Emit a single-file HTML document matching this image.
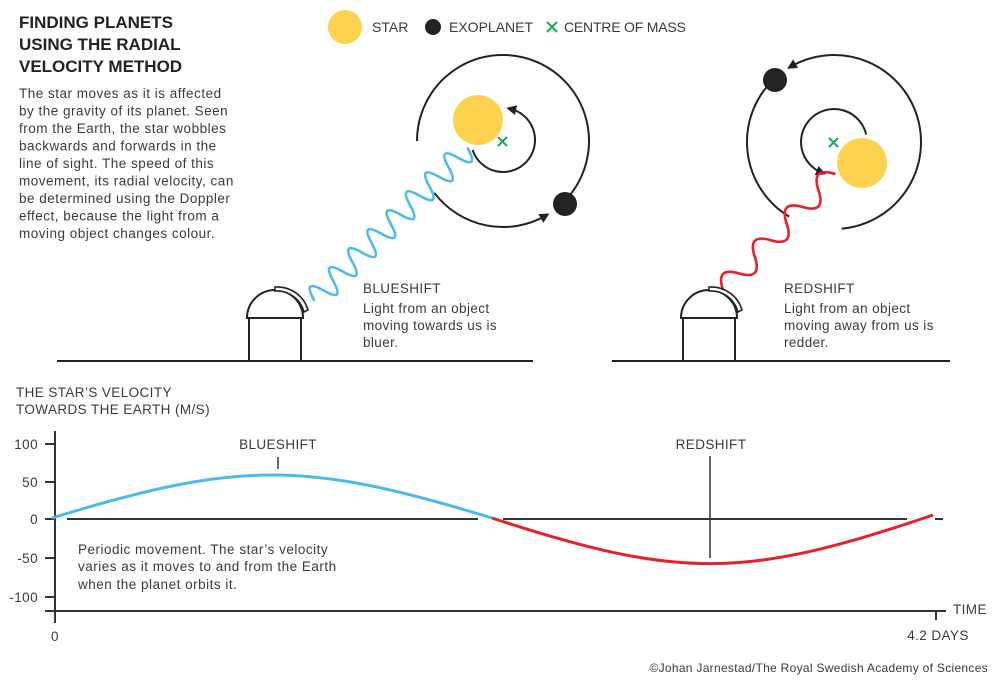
<!DOCTYPE html>
<html><head><meta charset="utf-8"><style>
html,body{margin:0;padding:0;background:#fff;}
svg{display:block;}
text{font-family:"Liberation Sans",sans-serif;fill:#3a3a3a;}
.t{font-weight:bold;font-size:17px;fill:#222;}
.b{font-size:13.5px;letter-spacing:0.5px;}
.s{font-size:13.5px;letter-spacing:0.4px;}
</style></head><body>
<svg width="1000" height="683" viewBox="0 0 1000 683" xmlns="http://www.w3.org/2000/svg">
<defs>
<marker id="ar" markerWidth="10" markerHeight="10" refX="6" refY="5" orient="auto" markerUnits="userSpaceOnUse">
<path d="M0,0 L10,5 L0,10 Z" fill="#222"/>
</marker>
</defs>
<!-- Title -->
<text class="t" x="19" y="28">FINDING PLANETS</text>
<text class="t" x="19" y="50">USING THE RADIAL</text>
<text class="t" x="19" y="72">VELOCITY METHOD</text>
<text class="b" x="19" y="98">The star moves as it is affected</text>
<text class="b" x="19" y="115.5">by the gravity of its planet. Seen</text>
<text class="b" x="19" y="133">from the Earth, the star wobbles</text>
<text class="b" x="19" y="150.5">backwards and forwards in the</text>
<text class="b" x="19" y="168">line of sight. The speed of this</text>
<text class="b" x="19" y="185.5">movement, its radial velocity, can</text>
<text class="b" x="19" y="203">be determined using the Doppler</text>
<text class="b" x="19" y="220.5">effect, because the light from a</text>
<text class="b" x="19" y="238">moving object changes colour.</text>
<!-- Legend -->
<circle cx="345" cy="27" r="17" fill="#fdd24e"/>
<text x="372" y="32" style="font-size:14px">STAR</text>
<circle cx="433" cy="27" r="8" fill="#222"/>
<text x="449" y="32" style="font-size:14px">EXOPLANET</text>
<path d="M547,22 L557,32 M557,22 L547,32" stroke="#1aaa55" stroke-width="2"/>
<text x="564" y="32" style="font-size:14px;letter-spacing:-0.2px">CENTRE OF MASS</text>

<!-- Left orbit -->
<g fill="none" stroke="#222" stroke-width="2">
<path d="M417,141 A86,86 0 1 1 563.8,201.8"/>
<path d="M434.3,192.8 A86,86 0 0 0 546,215.5" marker-end="url(#ar)"/>
<path d="M472.6,149.9 A32,32 0 1 0 510.2,108.8" marker-end="url(#ar)"/>
</g>
<circle cx="478" cy="120" r="25" fill="#fdd24e"/>
<circle cx="565" cy="204" r="12" fill="#222"/>
<path d="M498,137 L507,146 M507,137 L498,146" stroke="#1aaa55" stroke-width="2"/>
<path transform="translate(314,300) rotate(-44.6)" fill="none" stroke="#4dbbea" stroke-width="2.6" stroke-linecap="round"
 d="M0,0 q6.75,-24 13.5,0 t13.5,0 t13.5,0 t13.5,0 t13.5,0 t13.5,0 t13.5,0 t13.5,0 t13.5,0 t13.5,0 t13.5,0 t13.5,0 t13.5,0 t13.5,0 t13.5,0 t13.5,0"/>
<!-- Left telescope -->
<g fill="none" stroke="#222" stroke-width="2">
<path d="M247,318 A28,28 0 0 1 303,318 Z"/>
<path d="M249,318 V361 M301,318 V361"/>
<path d="M57,361 H533"/>
</g>
<path d="M275,287 A32,32 0 0 1 308,310 L304,312 A28,28 0 0 0 275,291 Z" fill="#fff" stroke="#222" stroke-width="1.6"/>
<text class="s" x="363" y="293">BLUESHIFT</text>
<text class="s" x="363" y="313">Light from an object</text>
<text class="s" x="363" y="330">moving towards us is</text>
<text class="s" x="363" y="347">bluer.</text>

<!-- Right orbit -->
<g fill="none" stroke="#222" stroke-width="2">
<path d="M773.6,79.4 A87,87 0 0 0 789.2,216.6"/>
<path d="M841.6,228.7 A87,87 0 1 0 790.5,66.7" marker-end="url(#ar)"/>
<path d="M866.2,134.6 A33,33 0 1 0 822.2,172.8" marker-end="url(#ar)"/>
</g>
<circle cx="775" cy="80" r="12" fill="#222"/>
<circle cx="862" cy="163" r="25" fill="#fdd24e"/>
<path d="M829,138 L838,147 M838,138 L829,147" stroke="#1aaa55" stroke-width="2"/>
<path transform="translate(723,290) rotate(-46.2)" fill="none" stroke="#e8202a" stroke-width="2.6" stroke-linecap="round"
 d="M0,0 q11.5,-22 23,0 t23,0 t23,0 t23,0 t23,0 t23,0 t23,0"/>
<g fill="none" stroke="#222" stroke-width="2">
<path d="M681,318 A28,28 0 0 1 737,318 Z"/>
<path d="M683,318 V361 M735,318 V361"/>
<path d="M612,361 H950"/>
</g>
<path d="M709,287 A32,32 0 0 1 742,310 L738,312 A28,28 0 0 0 709,291 Z" fill="#fff" stroke="#222" stroke-width="1.6"/>
<text class="s" x="784" y="293">REDSHIFT</text>
<text class="s" x="784" y="313">Light from an object</text>
<text class="s" x="784" y="330">moving away from us is</text>
<text class="s" x="784" y="347">redder.</text>

<!-- Graph -->
<text class="s" x="16" y="397">THE STAR’S VELOCITY</text>
<text class="s" x="16" y="414">TOWARDS THE EARTH (M/S)</text>
<g stroke="#333" stroke-width="2" fill="none">
<path d="M55,431 V623"/>
<path d="M45,444 H55 M45,482 H55 M45,519 H55 M45,558 H55 M45,597 H55"/>
<path d="M45,611 H946"/>
<path d="M936,611 V620"/>
<path d="M67,519 H478 M503,519 H907 M935,519 H943"/>
<path d="M278,457 V469" stroke-width="1.5"/>
<path d="M710,456 V558" stroke-width="1.5"/>
</g>
<g text-anchor="end">
<text class="s" x="38" y="449">100</text>
<text class="s" x="38" y="487">50</text>
<text class="s" x="38" y="524">0</text>
<text class="s" x="38" y="563">-50</text>
<text class="s" x="38" y="602">-100</text>
</g>
<path d="M52,518 C238.6,460.7 305.4,460.7 492,518" fill="none" stroke="#4dbbea" stroke-width="3"/>
<path d="M492,518 C678.6,579.3 745.4,579.3 933,515" fill="none" stroke="#e8202a" stroke-width="3"/>
<text class="s" x="278" y="449" text-anchor="middle">BLUESHIFT</text>
<text class="s" x="711" y="449" text-anchor="middle">REDSHIFT</text>
<text class="b" x="78" y="554">Periodic movement. The star’s velocity</text>
<text class="b" x="78" y="571">varies as it moves to and from the Earth</text>
<text class="b" x="78" y="589">when the planet orbits it.</text>
<text class="s" x="55" y="641" text-anchor="middle">0</text>
<text class="s" x="953" y="614">TIME</text>
<text class="s" x="938" y="640" text-anchor="middle">4.2 DAYS</text>
<text x="988" y="672" text-anchor="end" style="font-size:12px;letter-spacing:0.3px">©Johan Jarnestad/The Royal Swedish Academy of Sciences</text>
</svg>
</body></html>
